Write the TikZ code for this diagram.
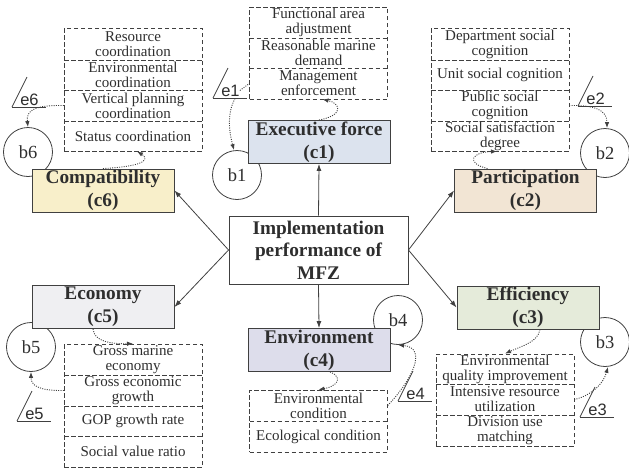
\documentclass[tikz,border=0pt]{standalone}
\usepackage{fontspec}
\setmainfont{Liberation Serif}
\newfontfamily\esans{Liberation Sans}
\usetikzlibrary{arrows.meta}
\definecolor{ln}{HTML}{404040}
\definecolor{tx}{HTML}{2E2E2E}
\definecolor{fcone}{HTML}{DCE3EE}
\definecolor{fctwo}{HTML}{F2E5D4}
\definecolor{fcthree}{HTML}{E5EBDA}
\definecolor{fcfour}{HTML}{DDDDEB}
\definecolor{fcfive}{HTML}{EFEFF2}
\definecolor{fcsix}{HTML}{F8EFCA}
\begin{document}
\begin{tikzpicture}[x=1pt,y=-1pt,
  cbox/.style={draw=ln, line width=0.9pt, minimum width=142pt, minimum height=43pt, inner sep=0pt,
    align=center, font=\fontsize{19.3}{23}\selectfont\bfseries, text=tx},
  mainbox/.style={draw=ln, line width=0.9pt, fill=white, minimum width=179pt, minimum height=68pt, inner sep=0pt,
    align=center, font=\fontsize{19.3}{22.5}\selectfont\bfseries, text=tx},
  lframe/.style={draw=ln, line width=0.8pt, dash pattern=on 4.5pt off 2.5pt, minimum width=138pt, inner sep=0pt},
  ldiv/.style={draw=ln, line width=0.8pt, dash pattern=on 4.5pt off 2.5pt},
  cell/.style={minimum width=138pt, inner sep=0pt, align=center, text=tx, font=\fontsize{15}{15}\selectfont},
  bcirc/.style={circle, draw=ln, line width=0.8pt, minimum size=49pt, inner sep=0pt, text=tx,
    font=\fontsize{18.5}{20}\selectfont},
  elab/.style={inner sep=0pt, text=tx, font=\esans\fontsize{16.5}{18}\selectfont},
  emark/.style={draw=ln, line width=0.8pt},
  sarrow/.style={draw=ln, line width=0.8pt, -{Latex[length=7pt,width=5pt]}},
  dotarrow/.style={draw=ln, line width=0.9pt, dash pattern=on 1pt off 1.3pt, -{Latex[length=6pt,width=4.5pt]}},
  dotline/.style={draw=ln, line width=0.9pt, dash pattern=on 1pt off 1.3pt}]
\useasboundingbox (0,0) rectangle (629,469);

% circles (behind boxes)
\node[bcirc] (b6) at (28,152) {b6};
\node[bcirc] (b1) at (237,175) {b1};
\node[bcirc] (b2) at (605,153) {b2};
\node[bcirc] (b3) at (605,342) {b3};
\node[bcirc] (b4) at (398,320) {b4};
\node[bcirc] (b5) at (31,347) {b5};

% central node and criteria
\node[mainbox] (C) at (318.5,250) {Implementation\\performance of\\MFZ};
\node[cbox, fill=fcone] (c1) at (319,142) {Executive force\\(c1)};
\node[cbox, fill=fctwo] (c2) at (525.5,190.5) {Participation\\(c2)};
\node[cbox, fill=fcthree] (c3) at (528,307.5) {Efficiency\\(c3)};
\node[cbox, fill=fcfour] (c4) at (319,350) {Environment\\(c4)};
\node[cbox, fill=fcfive] (c5) at (103,307) {Economy\\(c5)};
\node[cbox, fill=fcsix] (c6) at (103,190.5) {Compatibility\\(c6)};

% list L6
\node[lframe, minimum height=123pt] (L6) at (133,89.5) {};
\draw[ldiv] (64,60) -- (202,60);
\draw[ldiv] (64,90) -- (202,90);
\draw[ldiv] (64,121) -- (202,121);
\node[cell] (L6a) at (133,44) {Resource\\coordination};
\node[cell] (L6b) at (133,75) {Environmental\\coordination};
\node[cell] (L6c) at (133,105.5) {Vertical planning\\coordination};
\node[cell] (L6d) at (133,136) {Status coordination};

% list L1
\node[lframe, minimum height=92pt] (L1) at (318.5,53) {};
\draw[ldiv] (249.5,38) -- (387.5,38);
\draw[ldiv] (249.5,68) -- (387.5,68);
\node[cell] (L1a) at (318.5,22.5) {Functional area\\adjustment};
\node[cell] (L1b) at (318.5,53) {Reasonable marine\\demand};
\node[cell] (L1c) at (318.5,83.5) {Management\\enforcement};

% list L2
\node[lframe, minimum height=123pt] (L2) at (500,89.5) {};
\draw[ldiv] (431,60) -- (569,60);
\draw[ldiv] (431,90) -- (569,90);
\draw[ldiv] (431,121) -- (569,121);
\node[cell] (L2a) at (500,44) {Department social\\cognition};
\node[cell] (L2b) at (500,75) {Unit social cognition};
\node[cell] (L2c) at (500,105.5) {Public social\\cognition};
\node[cell] (L2d) at (500,136) {Social satisfaction\\degree};

% list L3
\node[lframe, minimum height=92pt] (L3) at (505,400) {};
\draw[ldiv] (436,384) -- (574,384);
\draw[ldiv] (436,415) -- (574,415);
\node[cell] (L3a) at (505,369) {Environmental\\quality improvement};
\node[cell] (L3b) at (505,399.5) {Intensive resource\\utilization};
\node[cell] (L3c) at (505,430.5) {Division use\\matching};

% list L4
\node[lframe, minimum height=62pt] (L4) at (318.5,421) {};
\draw[ldiv] (249.5,421) -- (387.5,421);
\node[cell] (L4a) at (318.5,405.5) {Environmental\\condition};
\node[cell] (L4b) at (318.5,436.5) {Ecological condition};

% list L5
\node[lframe, minimum height=123pt] (L5) at (133,405.5) {};
\draw[ldiv] (64,375) -- (202,375);
\draw[ldiv] (64,406) -- (202,406);
\draw[ldiv] (64,436) -- (202,436);
\node[cell] (L5a) at (133,359.5) {Gross marine\\economy};
\node[cell] (L5b) at (133,390.5) {Gross economic\\growth};
\node[cell] (L5c) at (133,421) {GOP growth rate};
\node[cell] (L5d) at (133,451.5) {Social value ratio};

% error markers
\coordinate (e6o) at (12,107);
\coordinate (e1o) at (213,98);
\coordinate (e2o) at (578,106);
\coordinate (e3o) at (580,417);
\coordinate (e4o) at (398,401);
\coordinate (e5o) at (17,421);
\foreach \p in {e6o,e1o,e2o,e3o,e4o,e5o}{
  \draw[emark] (\p) -- ++(34,0);
  \draw[emark] (\p) -- ++(15,-30);
}
\node[elab] (e6) at (29.5,99.5) {e6};
\node[elab] (e1) at (230.5,90.5) {e1};
\node[elab] (e2) at (595.5,98.5) {e2};
\node[elab] (e3) at (597.5,409.5) {e3};
\node[elab] (e4) at (415.5,393.5) {e4};
\node[elab] (e5) at (34.5,413.5) {e5};
\coordinate (e1u) at (235,98.5);

% solid arrows
\draw[sarrow] (C.north) -- (c1.south);
\draw[sarrow] (C.south) -- (c4.north);
\draw[sarrow] (C.west) -- (c6.east);
\draw[sarrow] (C.west) -- (c5.east);
\draw[sarrow] (C.east) -- (c2.west);
\draw[sarrow] (C.east) -- (c3.west);

% dotted arrows criteria -> indicators
\draw[dotarrow] (c6.north) .. controls (150,166) and (148,158) .. ([xshift=4pt]L6.south);
\draw[dotarrow] (c1.north) .. controls (345,115) and (340,103) .. ([xshift=4pt]L1.south);
\draw[dotarrow] ([xshift=-38pt]c2.north) .. controls (465,163) and (472,152) .. ([xshift=-3pt]L2.south);
\draw[dotarrow] ([xshift=-10pt]c5.south) .. controls (94,342) and (112,344) .. (L5.north);
\draw[dotarrow] ([xshift=11pt]c4.south) .. controls (345,378) and (335,387) .. (L4.north);
\draw[dotarrow] ([xshift=12pt]c3.south) .. controls (538,342) and (522,346) .. (L3.north);

% dotted arrows errors -> b
\draw[dotline] (e1.east) -- (L1c.west);
\draw[dotarrow] (e1u) .. controls (226,115) and (230,135) .. ([xshift=-3pt]b1.north);
\draw[dotarrow] (L6c.west) .. controls (35,105) and (26,110) .. (b6.north);
\draw[dotarrow] (L2c.east) .. controls (595,105) and (607,110) .. ([xshift=2pt]b2.north);
\draw[dotarrow] (L3b.east) .. controls (590,396) and (603,385) .. ([xshift=3pt]b3.south);
\draw[dotarrow] (L4a.east) .. controls (412,380) and (428,348) .. (b4.south);
\draw[dotarrow] (L5b.west) .. controls (38,391) and (31,385) .. (b5.south);
\end{tikzpicture}
\end{document}
